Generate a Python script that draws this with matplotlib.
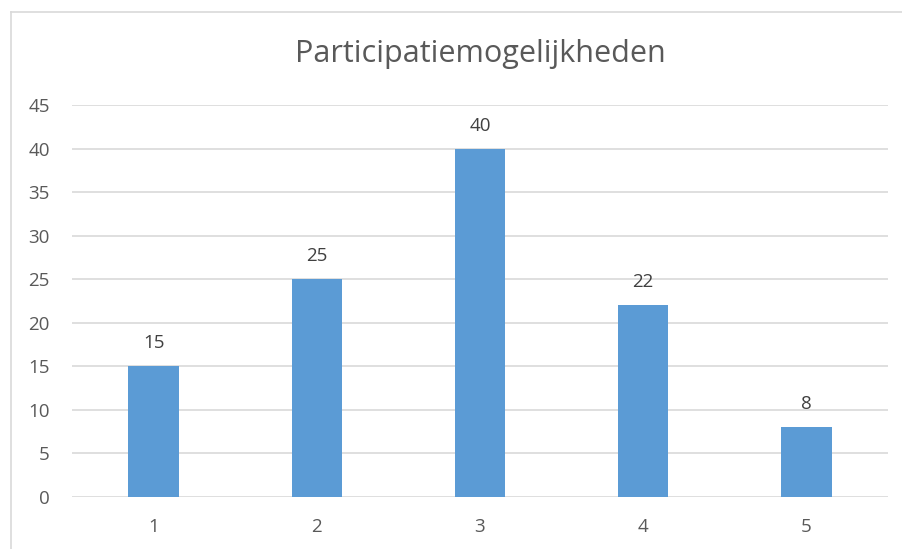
import matplotlib
matplotlib.use("Agg")
import matplotlib.pyplot as plt
from matplotlib.lines import Line2D

categories = ["1", "2", "3", "4", "5"]
values = [15, 25, 40, 22, 8]
yticks = [0, 5, 10, 15, 20, 25, 30, 35, 40, 45]
title = "Participatiemogelijkheden"

plt.rcParams['font.family'] = ['Open Sans', 'DejaVu Sans']

W, H = 903, 549
fig = plt.figure(figsize=(W / 100, H / 100), dpi=100)
ax = fig.add_axes([72 / W, 1 - 497 / H, (888 - 72) / W, (497 - 105) / H])

x = list(range(len(categories)))
ax.bar(x, values, width=0.31, color="#5B9BD5", zorder=3)
for xi, v in zip(x, values):
    ax.annotate(str(v), (xi, v), xytext=(0, 10), textcoords="offset points",
                ha="center", va="bottom", fontsize=13.5, color="#404040")

ax.set_xlim(-0.5, len(categories) - 0.5)
ax.set_ylim(0, 45)
ax.set_yticks(yticks)
ax.set_xticks(x)
ax.set_xticklabels(categories)
ax.grid(axis="y", color="#D9D9D9", linewidth=1.2, zorder=0)
for s in ax.spines.values():
    s.set_visible(False)
ax.tick_params(length=0, labelsize=13.5, labelcolor="#595959")
ax.tick_params(axis="y", pad=16)
ax.tick_params(axis="x", pad=15)

fig.text((72 + 888) / 2 / W, 1 - 54 / H, title, ha="center", va="center",
         fontsize=22, color="#595959")

# outer chart border (partially visible)
fig.add_artist(Line2D([11 / W, 11 / W], [0, 1 - 12 / H], transform=fig.transFigure,
                      color="#D9D9D9", linewidth=1.2))
fig.add_artist(Line2D([11 / W, 1], [1 - 12 / H, 1 - 12 / H], transform=fig.transFigure,
                      color="#D9D9D9", linewidth=1.2))

fig.savefig("out.png", dpi=100)
